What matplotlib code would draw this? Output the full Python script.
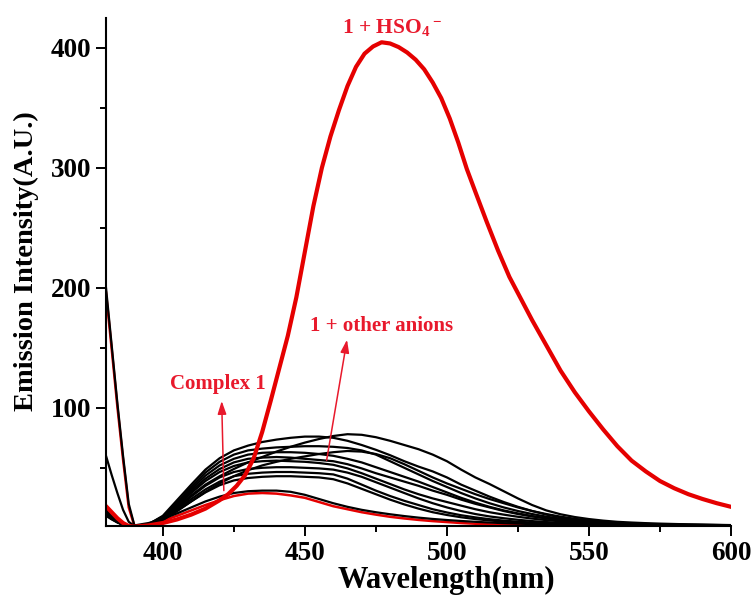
import matplotlib
matplotlib.use('Agg')
import matplotlib.pyplot as plt
from matplotlib.ticker import MultipleLocator

# wavelength grid (nm) for complex 1 and the other anions
wavelength = [380, 382, 384, 386, 388, 390, 395, 400, 405, 410, 415, 420, 425, 430, 435, 440,
              445, 450, 455, 460, 465, 470, 475, 480, 485, 490, 495, 500, 505, 510, 515, 520,
              525, 530, 535, 540, 545, 550, 555, 560, 565, 570, 575, 580, 585, 590, 595, 600]

# finer grid for the big HSO4- band
wavelength_hso4 = [380, 382, 384, 386, 388, 390, 395, 400, 405, 410, 415, 420, 423, 426, 429,
                   432, 435, 438, 441, 444, 447, 450, 453, 456, 459, 462, 465, 468, 471, 474,
                   477, 480, 483, 486, 489, 492, 495, 498, 501, 504, 507, 510, 514, 518, 522,
                   526, 530, 535, 540, 545, 550, 555, 560, 565, 570, 575, 580, 585, 590, 595, 600]
hso4 = [18, 13, 8, 4, 1.5, 1, 2, 4, 7, 11, 16, 23, 28, 35, 44,
        58, 80, 106, 133, 160, 192, 230, 268, 300, 326, 348, 368, 384, 395, 401,
        404.5, 403.5, 400.5, 396, 390, 382, 371, 358, 341, 321, 299, 280, 255, 231, 209,
        191, 173, 152, 131, 113, 97, 82, 68, 56, 47, 39, 33, 28, 24, 20.5, 17.5]

# complex 1 alone
complex1 = [196, 149, 101, 57, 17, 1.5, 3, 6, 10, 14.5, 19, 23, 26.5, 28.5, 29, 28.5,
            27, 25, 21.5, 18, 15.5, 13, 11, 9.2, 7.8, 6.6, 5.6, 4.8, 4, 3.4, 2.9, 2.5,
            2.2, 2, 1.8, 1.7, 1.6, 1.5, 1.4, 1.4, 1.3, 1.3, 1.2, 1.2, 1.1, 1.1, 1, 1]

# 1 + other anions
anion_low = [200, 152, 104, 60, 20, 2, 4, 7.5, 12, 17, 22, 26, 29, 30.5, 31, 31,
             30, 27.5, 24, 20.5, 17.5, 15, 13, 11.3, 9.8, 8.5, 7.4, 6.5, 5.7, 5, 4.4, 3.9,
             3.5, 3.1, 2.8, 2.5, 2.3, 2.1, 2, 1.9, 1.8, 1.8, 1.7, 1.7, 1.6, 1.6, 1.5, 1.5]
anion_a1 = [14, 9, 6, 3, 1, 1, 2.5, 8, 17, 27, 36, 43, 49, 54.5, 59, 63.5,
            67.5, 71, 74, 76.5, 78, 77.5, 75.5, 72.5, 69, 65.5, 61, 55.5, 48.5, 42, 36.5, 30.5,
            24.5, 19, 14.5, 11.3, 9, 7.3, 6, 5, 4.4, 3.9, 3.5, 3.2, 2.9, 2.7, 2.5, 2.3]
anion_a2 = [12, 8, 5, 3, 1, 1, 3, 10, 23, 36, 48.5, 58, 64.5, 68.5, 71.5, 73.5,
            75, 76, 76, 75, 72.5, 69, 65, 60.5, 55.5, 51, 47, 42, 36, 31, 26, 21.5,
            17.5, 14, 11, 8.8, 7, 5.7, 4.8, 4.1, 3.6, 3.2, 2.9, 2.7, 2.5, 2.4, 2.3, 2.2]
anion_a3 = [60, 44, 29, 15, 5, 1.5, 3, 9.5, 21, 34, 46, 55, 61, 64.5, 66, 67,
            67.5, 68, 68, 67.5, 66.5, 64.5, 61, 55.5, 50, 44.5, 39, 34, 29, 24.5, 20.5, 17,
            14, 11.5, 9.3, 7.6, 6.2, 5.1, 4.3, 3.7, 3.3, 3, 2.7, 2.5, 2.4, 2.3, 2.2, 2.1]
anion_a4 = [13, 9, 5.5, 3, 1, 1, 2.5, 7, 14, 22, 30, 37, 43, 48, 52, 55,
            57.5, 59.5, 61.5, 63, 64, 63.5, 61.5, 58, 53, 47.5, 42, 37, 32.5, 28, 24, 20.5,
            17, 14, 11.5, 9.3, 7.5, 6.1, 5, 4.2, 3.6, 3.2, 2.9, 2.7, 2.5, 2.4, 2.3, 2.2]
anion_a5 = [11, 7.5, 5, 2.5, 1, 1, 3, 9, 20, 32, 43.5, 52, 57.5, 61, 62.5, 63,
            63, 62.5, 61.5, 60, 57.5, 54.5, 50.5, 46.5, 42.5, 38.5, 34, 29.5, 25, 21, 17.5, 14.5,
            12, 9.8, 8, 6.6, 5.5, 4.6, 3.9, 3.4, 3, 2.7, 2.5, 2.3, 2.2, 2.1, 2, 1.9]
anion_a6 = [12, 8, 5, 2.5, 1, 1, 3, 8.5, 19, 30.5, 41, 49, 54.5, 57.5, 58.5, 59,
            58.5, 57.5, 56.5, 55.5, 53, 49.5, 45.5, 42, 38.5, 35, 31, 27.5, 23.5, 20, 17, 14,
            11.5, 9.5, 7.8, 6.4, 5.3, 4.4, 3.7, 3.2, 2.8, 2.5, 2.3, 2.2, 2.1, 2, 1.9, 1.8]
anion_a7 = [10, 7, 4.5, 2.5, 1, 1, 3, 8, 18, 29, 39, 46.5, 51.5, 54.5, 55.5, 56,
            55.5, 55, 54, 52.5, 49.5, 45.5, 41, 36.5, 32, 28, 24.5, 21.5, 18.5, 15.5, 13, 11,
            9.2, 7.7, 6.4, 5.4, 4.6, 3.9, 3.4, 3, 2.7, 2.5, 2.3, 2.2, 2.1, 2, 1.9, 1.8]
anion_a8 = [15, 10, 6, 3, 1, 1, 2.5, 7.5, 16, 26, 35, 42, 46.5, 49, 50, 50.5,
            50.5, 50, 49.5, 48.5, 46, 42.5, 38, 33.5, 29, 24.5, 20.5, 17, 14, 11.5, 9.5, 8,
            6.7, 5.6, 4.8, 4.1, 3.6, 3.2, 2.9, 2.6, 2.4, 2.3, 2.2, 2.1, 2, 1.9, 1.8, 1.8]
anion_a9 = [11, 7.5, 4.5, 2.5, 1, 1, 2.5, 7, 15, 24, 32, 38.5, 43, 45, 46, 46.5,
            46.5, 46, 45.5, 44.5, 41, 36, 31, 26.5, 22.5, 19, 15.5, 12.8, 10.5, 8.7, 7.2, 6,
            5.1, 4.4, 3.8, 3.4, 3, 2.7, 2.5, 2.3, 2.2, 2.1, 2, 1.9, 1.9, 1.8, 1.8, 1.7]
anion_a10 = [13, 8.5, 5, 2.5, 1, 1, 2.5, 6.5, 14, 22, 29.5, 35.5, 39.5, 41.5, 42.5, 43,
             43, 42.5, 42, 40.5, 37, 32.5, 28, 23.5, 19.5, 16, 13, 10.7, 8.8, 7.3, 6.1, 5.2,
             4.5, 3.9, 3.4, 3.1, 2.8, 2.6, 2.4, 2.2, 2.1, 2, 1.9, 1.9, 1.8, 1.8, 1.7, 1.7]

other_anions = [anion_low, anion_a1, anion_a2, anion_a3, anion_a4, anion_a5,
                anion_a6, anion_a7, anion_a8, anion_a9, anion_a10]

plt.rcParams['font.family'] = 'Liberation Serif'
plt.rcParams['font.weight'] = 'bold'
plt.rcParams['mathtext.fontset'] = 'custom'
plt.rcParams['mathtext.rm'] = 'Liberation Serif:bold'
plt.rcParams['mathtext.it'] = 'Liberation Serif:bold'
plt.rcParams['mathtext.default'] = 'rm'

red = '#e50000'
txt_red = '#e8192c'

fig = plt.figure(figsize=(7.55, 6.07), dpi=100)
ax = fig.add_axes([0.1404, 0.1334, 0.8278, 0.8365])

ax.plot(wavelength, complex1, color=red, lw=1.8)
for curve in other_anions:
    ax.plot(wavelength, curve, color='black', lw=1.6)
ax.plot(wavelength_hso4, hso4, color=red, lw=3)

ax.set_xlim(380, 600)
ax.set_ylim(1.5, 424.5)
ax.xaxis.set_major_locator(MultipleLocator(50))
ax.xaxis.set_minor_locator(MultipleLocator(25))
ax.yaxis.set_major_locator(MultipleLocator(100))
ax.yaxis.set_minor_locator(MultipleLocator(50))

for s in ['top', 'right']:
    ax.spines[s].set_visible(False)
for s in ['left', 'bottom']:
    ax.spines[s].set_linewidth(1.5)
ax.tick_params(which='major', direction='out', length=7, width=1.4, labelsize=19.5)
ax.tick_params(which='minor', direction='out', length=4.5, width=1.4)

ax.set_xlabel('Wavelength(nm)', fontsize=22, fontweight='bold')
ax.set_ylabel('Emission Intensity(A.U.)', fontsize=20.5, fontweight='bold')
ax.xaxis.set_label_coords(0.544, -0.078)
ax.yaxis.set_label_coords(-0.108, 0.522)

ax.text(463, 412, r'1 + HSO$_4$$^-$', color=txt_red, fontsize=15.5, fontweight='bold',
        ha='left', va='baseline')
ax.text(451.8, 164, '1 + other anions', color=txt_red, fontsize=15, fontweight='bold',
        ha='left', va='baseline')
ax.text(402.5, 116, 'Complex 1', color=txt_red, fontsize=15, fontweight='bold',
        ha='left', va='baseline')

ax.annotate('', xy=(420.7, 108), xytext=(421.5, 28.7),
            arrowprops=dict(arrowstyle='-|>,head_length=0.6,head_width=0.2',
                            color=txt_red, lw=1.1, mutation_scale=13))
ax.annotate('', xy=(465, 159), xytext=(457.5, 54),
            arrowprops=dict(arrowstyle='-|>,head_length=0.6,head_width=0.2',
                            color=txt_red, lw=1.1, mutation_scale=13))

plt.savefig('out.png', dpi=100)
